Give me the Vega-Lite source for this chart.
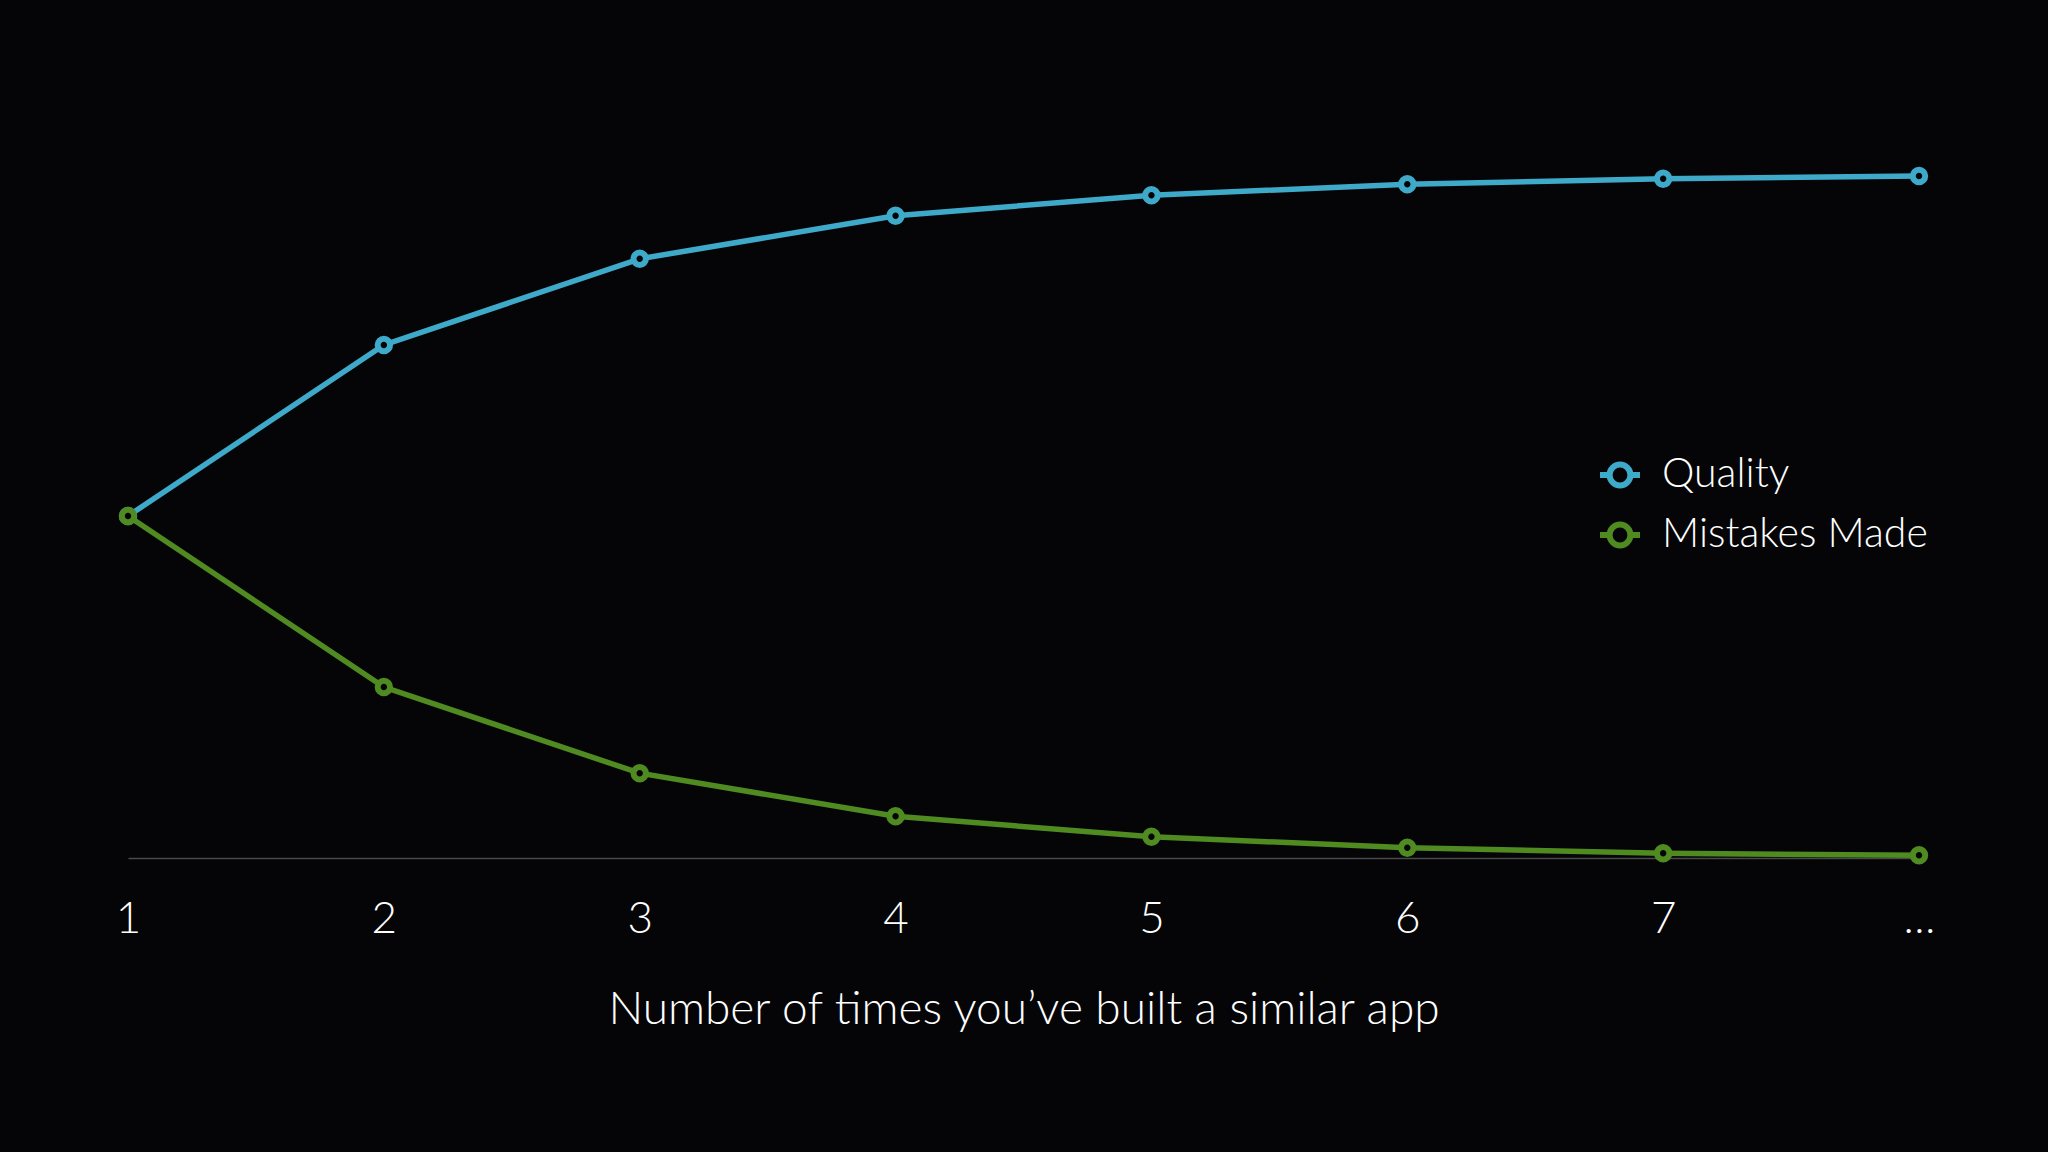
{
  "$schema": "https://vega.github.io/schema/vega-lite/v6.json",
  "width": 1791,
  "height": 684,
  "autosize": "none",
  "padding": {"left": 128, "top": 174, "right": 129, "bottom": 294},
  "background": "#050507",
  "config": {"view": {"stroke": null}, "font": "Lato"},
  "data": {"values": [
    {"n": "1", "series": "Quality", "v": 50},
    {"n": "2", "series": "Quality", "v": 75},
    {"n": "3", "series": "Quality", "v": 87.6},
    {"n": "4", "series": "Quality", "v": 93.9},
    {"n": "5", "series": "Quality", "v": 96.9},
    {"n": "6", "series": "Quality", "v": 98.5},
    {"n": "7", "series": "Quality", "v": 99.3},
    {"n": "…", "series": "Quality", "v": 99.7},
    {"n": "1", "series": "Mistakes Made", "v": 50},
    {"n": "2", "series": "Mistakes Made", "v": 25},
    {"n": "3", "series": "Mistakes Made", "v": 12.4},
    {"n": "4", "series": "Mistakes Made", "v": 6.1},
    {"n": "5", "series": "Mistakes Made", "v": 3.1},
    {"n": "6", "series": "Mistakes Made", "v": 1.5},
    {"n": "7", "series": "Mistakes Made", "v": 0.7},
    {"n": "…", "series": "Mistakes Made", "v": 0.4}
  ]},
  "encoding": {
    "x": {
      "field": "n", "type": "ordinal",
      "sort": ["1", "2", "3", "4", "5", "6", "7", "…"],
      "scale": {"type": "point", "padding": 0},
      "axis": {
        "title": "Number of times you’ve built a similar app",
        "titleFont": "Lato", "titleFontWeight": 300, "titleFontSize": 46, "titleColor": "#ffffff",
        "titleBaseline": "alphabetic", "titleY": 165,
        "labelFont": "Lato", "labelFontWeight": 300, "labelFontSize": 44, "labelColor": "#ffffff",
        "labelAngle": 0, "labelBaseline": "alphabetic", "labelPadding": 74,
        "ticks": false, "grid": false,
        "domainColor": "#4a4a4a", "domainWidth": 1.5
      }
    },
    "y": {
      "field": "v", "type": "quantitative",
      "scale": {"domain": [0, 100], "nice": false, "zero": true},
      "axis": null
    },
    "color": {
      "field": "series", "type": "nominal",
      "scale": {"domain": ["Quality", "Mistakes Made"], "range": ["#3fa9c9", "#4f8b20"]},
      "legend": {
        "title": null, "orient": "none", "legendX": 1469, "legendY": 278,
        "symbolType": "M-1,0L-0.52,0M0.52,0L1,0M0.52,0A0.52,0.52,0,1,1,-0.52,0A0.52,0.52,0,1,1,0.52,0Z",
        "symbolSize": 1600, "symbolStrokeWidth": 6, "symbolFillColor": "transparent",
        "labelFont": "Lato", "labelFontWeight": 300, "labelFontSize": 41, "labelColor": "#ffffff",
        "labelOffset": 19, "rowPadding": 14, "labelLimit": 600
      }
    }
  },
  "layer": [
    {"mark": {"type": "line", "strokeWidth": 5.5}},
    {"mark": {"type": "point", "shape": "circle", "filled": false, "fill": "#050507", "fillOpacity": 1, "opacity": 1, "strokeWidth": 6, "size": 154}}
  ]
}
